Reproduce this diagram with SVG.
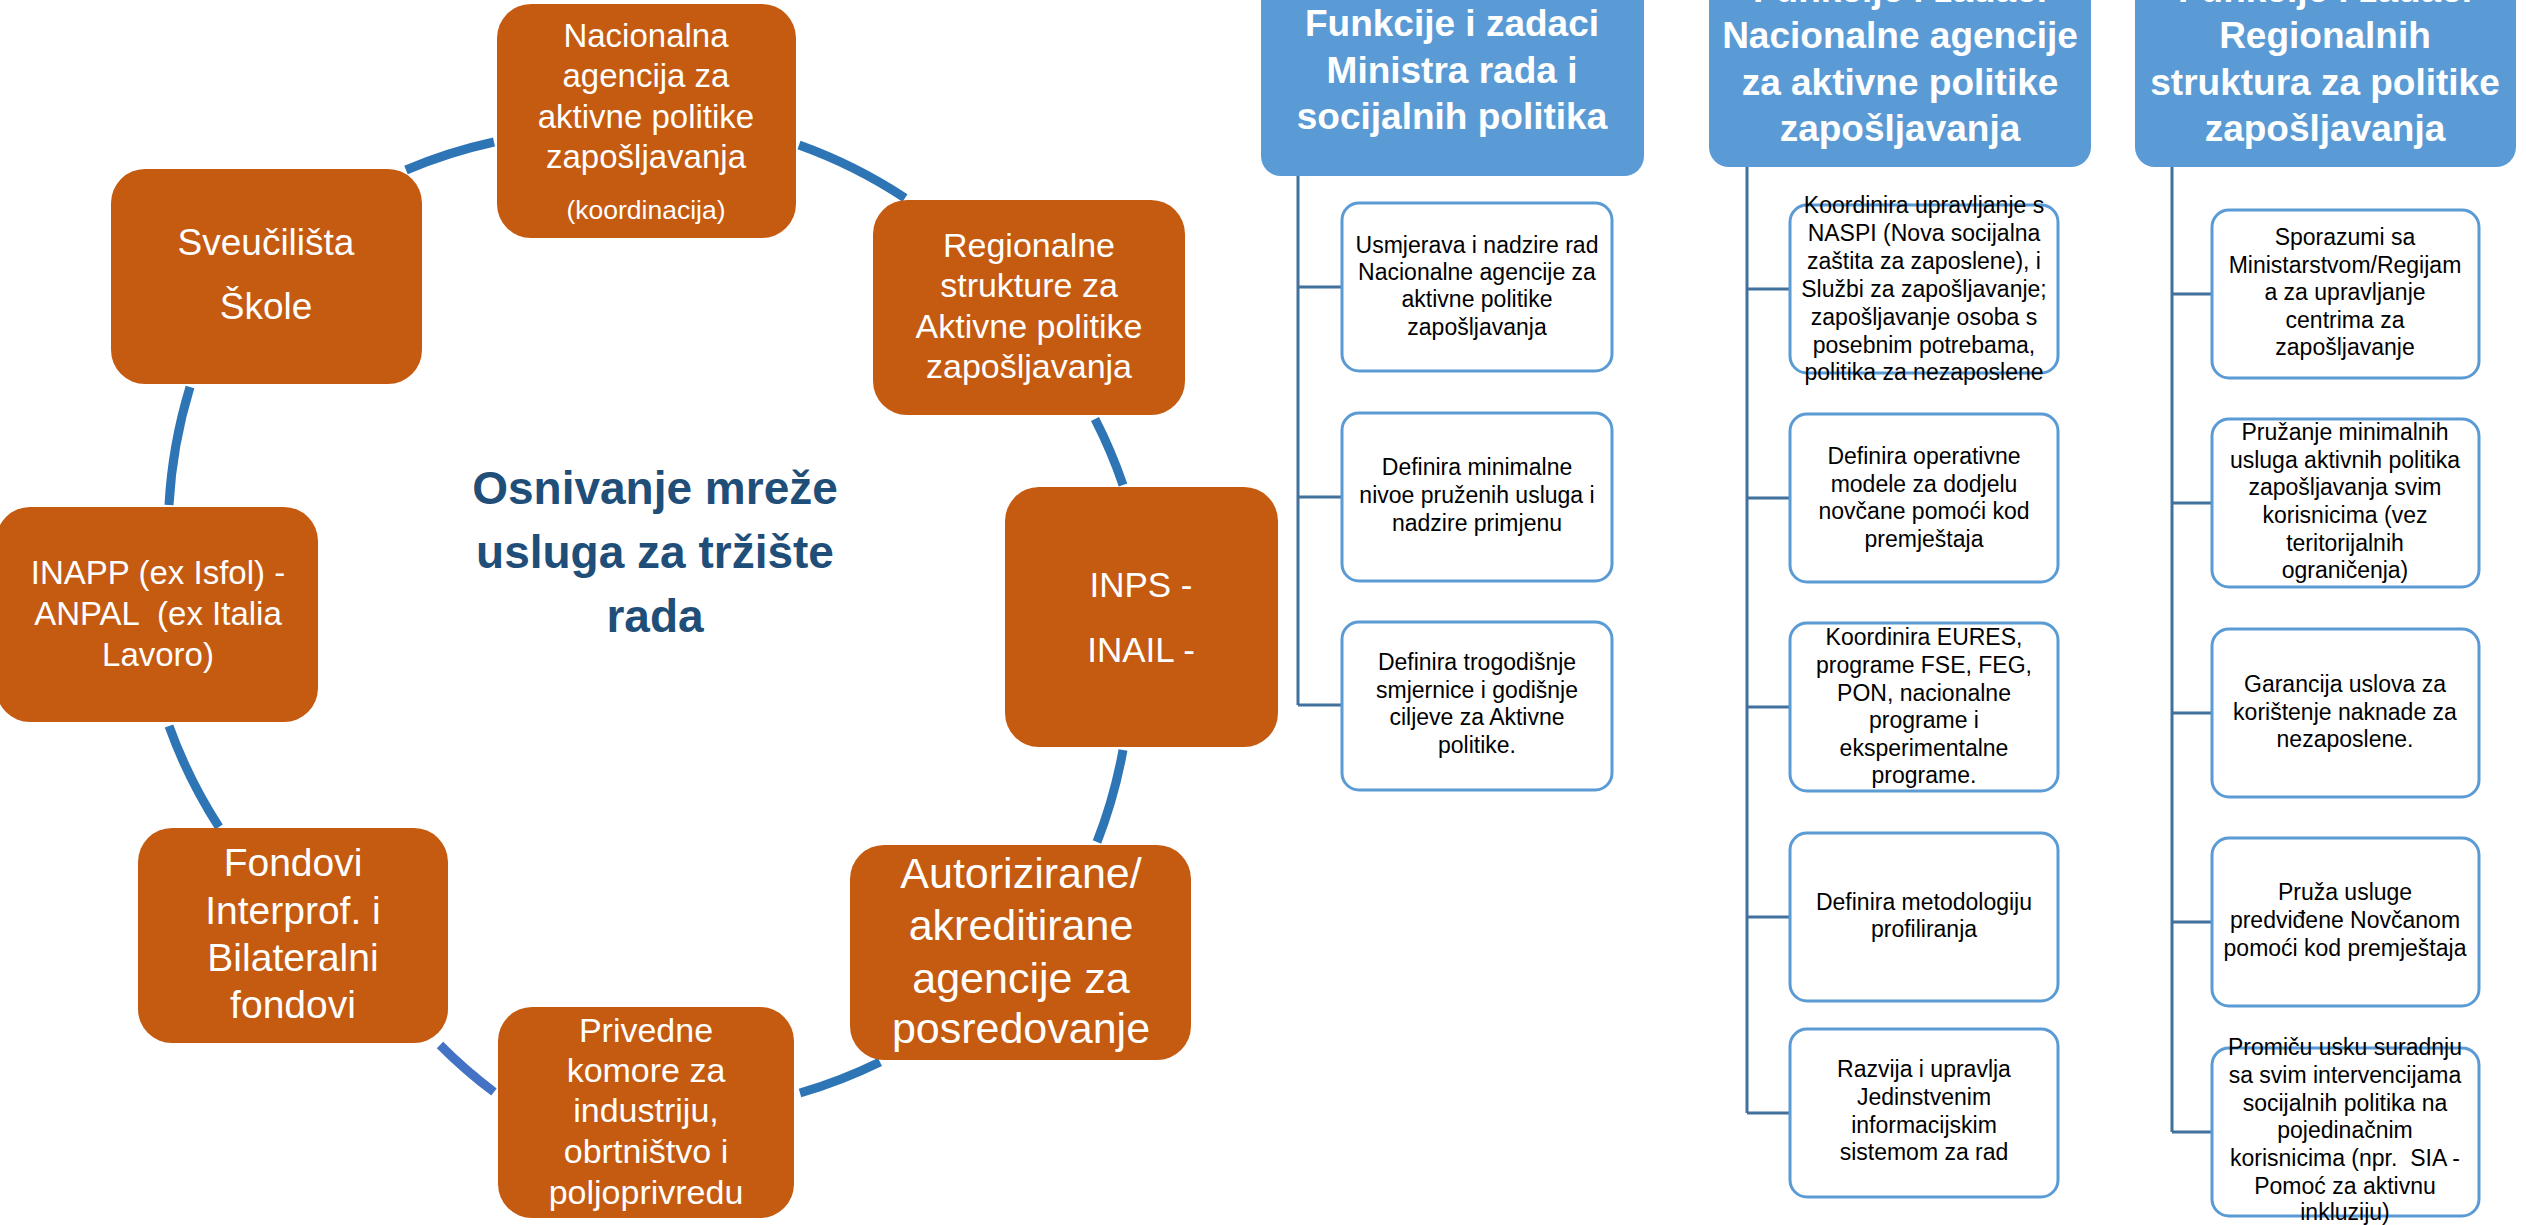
<svg xmlns="http://www.w3.org/2000/svg" width="2526" height="1225" viewBox="0 0 2526 1225">
<style>
text { font-family: "Liberation Sans", Arial, sans-serif; }
.o { fill: #C55A11; }
.ot { fill: #FFFFFF; text-anchor: middle; }
.ttl { fill: #1F4E79; font-weight: bold; font-size: 46px; text-anchor: middle; }
.hd { fill: #5B9BD5; }
.ht { fill: #FFFFFF; font-weight: bold; font-size: 37px; text-anchor: middle; }
.bx { fill: #FFFFFF; stroke: #5B9BD5; stroke-width: 3; }
.bt { fill: #000000; font-size: 23px; text-anchor: middle; }
.ln { stroke: #41719C; stroke-width: 3; fill: none; }
.arc { stroke: #2E75B6; stroke-width: 9; fill: none; }
.arc2 { stroke: #4472C4; stroke-width: 9; fill: none; }
</style>
<rect x="0" y="0" width="2526" height="1225" fill="#FFFFFF"/>

<g id="connectors">
  <path class="arc" d="M406,170 A495,495 0 0 1 494,142"/>
  <path class="arc" d="M799,145 A495,495 0 0 1 905,198"/>
  <path class="arc" d="M1095,419 A495,495 0 0 1 1123,485"/>
  <path class="arc" d="M1123,750 A495,495 0 0 1 1097,842"/>
  <path class="arc" d="M880,1062 A495,495 0 0 1 800,1093"/>
  <path class="arc2" d="M494,1092 A495,495 0 0 1 440,1045"/>
  <path class="arc" d="M219,827 A495,495 0 0 1 169,726"/>
  <path class="arc" d="M169,505 A495,495 0 0 1 190,387"/>
  <path class="ln" d="M1298,176 V705 M1298,287 H1342 M1298,497 H1342 M1298,705 H1342"/>
  <path class="ln" d="M1747,167 V1113 M1747,289 H1790 M1747,498 H1790 M1747,707 H1790 M1747,917 H1790 M1747,1113 H1790"/>
  <path class="ln" d="M2172,167 V1132 M2172,294 H2212 M2172,503 H2212 M2172,713 H2212 M2172,922 H2212 M2172,1132 H2212"/>
</g>

<g id="title">
  <text class="ttl" x="655" y="504">Osnivanje mreže</text>
  <text class="ttl" x="655" y="568">usluga za tržište</text>
  <text class="ttl" x="655" y="632">rada</text>
</g>

<g id="n-nacionalna">
  <rect class="o" x="497" y="4" width="299" height="234" rx="34"/>
  <text class="ot" font-size="33" x="646" y="47">Nacionalna</text>
  <text class="ot" font-size="33" x="646" y="87">agencija za</text>
  <text class="ot" font-size="33" x="646" y="128">aktivne politike</text>
  <text class="ot" font-size="33" x="646" y="168">zapošljavanja</text>
  <text class="ot" font-size="26.5" x="646" y="219">(koordinacija)</text>
</g>

<g id="n-sveucilista">
  <rect class="o" x="111" y="169" width="311" height="215" rx="34"/>
  <text class="ot" font-size="37" x="266" y="255">Sveučilišta</text>
  <text class="ot" font-size="37" x="266" y="319">Škole</text>
</g>

<g id="n-regionalne">
  <rect class="o" x="873" y="200" width="312" height="215" rx="34"/>
  <text class="ot" font-size="34" x="1029" y="257">Regionalne</text>
  <text class="ot" font-size="34" x="1029" y="297">strukture za</text>
  <text class="ot" font-size="34" x="1029" y="338">Aktivne politike</text>
  <text class="ot" font-size="34" x="1029" y="378">zapošljavanja</text>
</g>

<g id="n-inapp">
  <rect class="o" x="-4" y="507" width="322" height="215" rx="34"/>
  <text class="ot" font-size="33" x="158" y="584">INAPP (ex Isfol) -</text>
  <text class="ot" font-size="33" x="158" y="625" xml:space="preserve">ANPAL  (ex Italia</text>
  <text class="ot" font-size="33" x="158" y="666">Lavoro)</text>
</g>

<g id="n-inps">
  <rect class="o" x="1005" y="487" width="273" height="260" rx="34"/>
  <text class="ot" font-size="35" x="1141" y="597">INPS -</text>
  <text class="ot" font-size="35" x="1141" y="662">INAIL -</text>
</g>

<g id="n-fondovi">
  <rect class="o" x="138" y="828" width="310" height="215" rx="34"/>
  <text class="ot" font-size="39" x="293" y="876">Fondovi</text>
  <text class="ot" font-size="39" x="293" y="924">Interprof. i</text>
  <text class="ot" font-size="39" x="293" y="971">Bilateralni</text>
  <text class="ot" font-size="39" x="293" y="1018">fondovi</text>
</g>

<g id="n-autorizirane">
  <rect class="o" x="850" y="845" width="341" height="215" rx="34"/>
  <text class="ot" font-size="43" x="1021" y="888">Autorizirane/</text>
  <text class="ot" font-size="43" x="1021" y="940">akreditirane</text>
  <text class="ot" font-size="43" x="1021" y="993">agencije za</text>
  <text class="ot" font-size="43" x="1021" y="1043">posredovanje</text>
</g>

<g id="n-privedne">
  <rect class="o" x="498" y="1007" width="296" height="211" rx="34"/>
  <text class="ot" font-size="34" x="646" y="1042">Privedne</text>
  <text class="ot" font-size="34" x="646" y="1082">komore za</text>
  <text class="ot" font-size="34" x="646" y="1122">industriju,</text>
  <text class="ot" font-size="34" x="646" y="1163">obrtništvo i</text>
  <text class="ot" font-size="34" x="646" y="1204">poljoprivredu</text>
</g>

<g id="h-ministra">
  <rect class="hd" x="1261" y="-60" width="383" height="236" rx="20"/>
  <text class="ht" x="1452" y="36">Funkcije i zadaci</text>
  <text class="ht" x="1452" y="83">Ministra rada i</text>
  <text class="ht" x="1452" y="129">socijalnih politika</text>
</g>
<g id="h-nacionalne">
  <rect class="hd" x="1709" y="-60" width="382" height="227" rx="20"/>
  <text class="ht" x="1900" y="2">Funkcije i zadaci</text>
  <text class="ht" x="1900" y="48">Nacionalne agencije</text>
  <text class="ht" x="1900" y="95">za aktivne politike</text>
  <text class="ht" x="1900" y="141">zapošljavanja</text>
</g>
<g id="h-regionalnih">
  <rect class="hd" x="2135" y="-60" width="381" height="227" rx="20"/>
  <text class="ht" x="2325" y="2">Funkcije i zadaci</text>
  <text class="ht" x="2325" y="48">Regionalnih</text>
  <text class="ht" x="2325" y="95">struktura za politike</text>
  <text class="ht" x="2325" y="141">zapošljavanja</text>
</g>

<g id="m1">
  <rect class="bx" x="1342" y="203" width="270" height="168" rx="17"/>
  <text class="bt" x="1477" y="253">Usmjerava i nadzire rad</text>
  <text class="bt" x="1477" y="280">Nacionalne agencije za</text>
  <text class="bt" x="1477" y="307">aktivne politike</text>
  <text class="bt" x="1477" y="335">zapošljavanja</text>
</g>
<g id="m2">
  <rect class="bx" x="1342" y="413" width="270" height="168" rx="17"/>
  <text class="bt" x="1477" y="475">Definira minimalne</text>
  <text class="bt" x="1477" y="503">nivoe pruženih usluga i</text>
  <text class="bt" x="1477" y="531">nadzire primjenu</text>
</g>
<g id="m3">
  <rect class="bx" x="1342" y="622" width="270" height="168" rx="17"/>
  <text class="bt" x="1477" y="670">Definira trogodišnje</text>
  <text class="bt" x="1477" y="698">smjernice i godišnje</text>
  <text class="bt" x="1477" y="725">ciljeve za Aktivne</text>
  <text class="bt" x="1477" y="753">politike.</text>
</g>

<g id="a1">
  <rect class="bx" x="1790" y="205" width="268" height="168" rx="17"/>
  <text class="bt" x="1924" y="213">Koordinira upravljanje s</text>
  <text class="bt" x="1924" y="241">NASPI (Nova socijalna</text>
  <text class="bt" x="1924" y="269">zaštita za zaposlene), i</text>
  <text class="bt" x="1924" y="297">Službi za zapošljavanje;</text>
  <text class="bt" x="1924" y="325">zapošljavanje osoba s</text>
  <text class="bt" x="1924" y="353">posebnim potrebama,</text>
  <text class="bt" x="1924" y="380">politika za nezaposlene</text>
</g>
<g id="a2">
  <rect class="bx" x="1790" y="414" width="268" height="168" rx="17"/>
  <text class="bt" x="1924" y="464">Definira operativne</text>
  <text class="bt" x="1924" y="492">modele za dodjelu</text>
  <text class="bt" x="1924" y="519">novčane pomoći kod</text>
  <text class="bt" x="1924" y="547">premještaja</text>
</g>
<g id="a3">
  <rect class="bx" x="1790" y="623" width="268" height="168" rx="17"/>
  <text class="bt" x="1924" y="645">Koordinira EURES,</text>
  <text class="bt" x="1924" y="673">programe FSE, FEG,</text>
  <text class="bt" x="1924" y="701">PON, nacionalne</text>
  <text class="bt" x="1924" y="728">programe i</text>
  <text class="bt" x="1924" y="756">eksperimentalne</text>
  <text class="bt" x="1924" y="783">programe.</text>
</g>
<g id="a4">
  <rect class="bx" x="1790" y="833" width="268" height="168" rx="17"/>
  <text class="bt" x="1924" y="910">Definira metodologiju</text>
  <text class="bt" x="1924" y="937">profiliranja</text>
</g>
<g id="a5">
  <rect class="bx" x="1790" y="1029" width="268" height="168" rx="17"/>
  <text class="bt" x="1924" y="1077">Razvija i upravlja</text>
  <text class="bt" x="1924" y="1105">Jedinstvenim</text>
  <text class="bt" x="1924" y="1133">informacijskim</text>
  <text class="bt" x="1924" y="1160">sistemom za rad</text>
</g>

<g id="r1">
  <rect class="bx" x="2212" y="210" width="267" height="168" rx="17"/>
  <text class="bt" x="2345" y="245">Sporazumi sa</text>
  <text class="bt" x="2345" y="273">Ministarstvom/Regijam</text>
  <text class="bt" x="2345" y="300">a za upravljanje</text>
  <text class="bt" x="2345" y="328">centrima za</text>
  <text class="bt" x="2345" y="355">zapošljavanje</text>
</g>
<g id="r2">
  <rect class="bx" x="2212" y="419" width="267" height="168" rx="17"/>
  <text class="bt" x="2345" y="440">Pružanje minimalnih</text>
  <text class="bt" x="2345" y="468">usluga aktivnih politika</text>
  <text class="bt" x="2345" y="495">zapošljavanja svim</text>
  <text class="bt" x="2345" y="523">korisnicima (vez</text>
  <text class="bt" x="2345" y="551">teritorijalnih</text>
  <text class="bt" x="2345" y="578">ograničenja)</text>
</g>
<g id="r3">
  <rect class="bx" x="2212" y="629" width="267" height="168" rx="17"/>
  <text class="bt" x="2345" y="692">Garancija uslova za</text>
  <text class="bt" x="2345" y="720">korištenje naknade za</text>
  <text class="bt" x="2345" y="747">nezaposlene.</text>
</g>
<g id="r4">
  <rect class="bx" x="2212" y="838" width="267" height="168" rx="17"/>
  <text class="bt" x="2345" y="900">Pruža usluge</text>
  <text class="bt" x="2345" y="928">predviđene Novčanom</text>
  <text class="bt" x="2345" y="956">pomoći kod premještaja</text>
</g>
<g id="r5">
  <rect class="bx" x="2212" y="1048" width="267" height="168" rx="17"/>
  <text class="bt" x="2345" y="1055">Promiču usku suradnju</text>
  <text class="bt" x="2345" y="1083">sa svim intervencijama</text>
  <text class="bt" x="2345" y="1111">socijalnih politika na</text>
  <text class="bt" x="2345" y="1138">pojedinačnim</text>
  <text class="bt" x="2345" y="1166" xml:space="preserve">korisnicima (npr.  SIA -</text>
  <text class="bt" x="2345" y="1194">Pomoć za aktivnu</text>
  <text class="bt" x="2345" y="1220">inkluziju)</text>
</g>
</svg>
